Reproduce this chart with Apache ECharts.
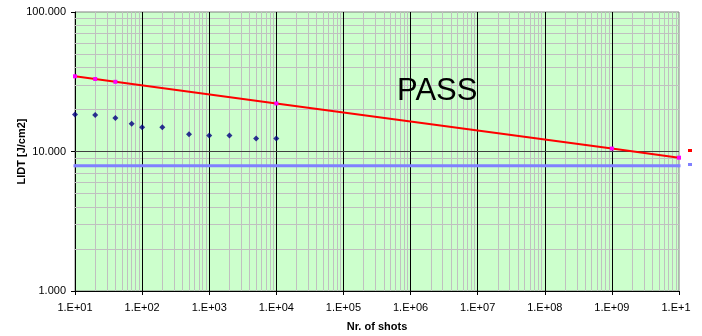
<!DOCTYPE html>
<html><head><meta charset="utf-8">
<script src="https://cdn.jsdelivr.net/npm/echarts@6/dist/echarts.min.js"></script>
<style>html,body{margin:0;padding:0;background:#fff}#c{width:702px;height:336px}</style>
</head><body><div id="c"></div>
<script>
// data
const shotsMeasured = [10, 20, 40, 70, 100, 200, 500, 1000, 2000, 5000, 10000];
const lidtMeasured  = [18.4, 18.3, 17.4, 15.8, 14.9, 14.9, 13.3, 13.0, 13.0, 12.4, 12.4];
const shotsRequired = [10, 20, 40, 1e4, 1e9, 1e10];
const lidtRequired  = [34.6, 33.1, 31.6, 22.1, 10.5, 9.03];
const shotsLimit = [10, 1e10];
const lidtLimit  = [7.9, 7.9];
const xTickValues = [1e1,1e2,1e3,1e4,1e5,1e6,1e7,1e8,1e9,1e10];
const yTickValues = [1, 10, 100];

const FONT = 'Liberation Sans, Arial, sans-serif';
const zip = (a, b) => a.map((v, i) => [v, b[i]]);

// grid lines (minor 2..9 per decade) positioned through the axes
const gridLines = [];
for (let e = 1; e < 10; e++) {
  for (let m = 2; m <= 9; m++) gridLines.push({xAxis: m * Math.pow(10, e), lineStyle: {color: '#c0c0c0', width: 1, type: 'solid'}});
}
for (let e = 0; e < 2; e++) {
  for (let m = 2; m <= 9; m++) gridLines.push({yAxis: m * Math.pow(10, e), lineStyle: {color: '#c0c0c0', width: 1, type: 'solid'}});
}
for (let e = 2; e < 10; e++) gridLines.push({xAxis: Math.pow(10, e), lineStyle: {color: '#000000', width: 1, type: 'solid'}});
gridLines.push({yAxis: 10, lineStyle: {color: '#404040', width: 1, type: 'solid'}});

const chart = echarts.init(document.getElementById('c'), null, {renderer: 'canvas'});
chart.setOption({
  animation: false,
  backgroundColor: '#ffffff',
  textStyle: {fontFamily: FONT},
  grid: {left: 75, right: 23, top: 12, bottom: 45, show: true, backgroundColor: '#ccffcc', borderColor: '#808080', borderWidth: 1, outerBoundsMode: 'none', containLabel: false},
  legend: {
    orient: 'vertical', left: 688, top: 149, padding: 0, itemWidth: 4, itemHeight: 3, itemGap: 11,
    formatter: () => '', textStyle: {fontSize: 1},
    data: [
      {name: 'Required', icon: 'rect', itemStyle: {color: '#ff0000'}},
      {name: 'Limit', icon: 'rect', itemStyle: {color: '#8080ff'}}
    ]
  },
  xAxis: {
    type: 'log', logBase: 10, min: 10, max: 1e10,
    name: 'Nr. of shots', nameLocation: 'middle', nameGap: 30, nameMoveOverlap: false,
    nameTextStyle: {fontFamily: FONT, fontSize: 11, fontWeight: 'bold', color: '#000'},
    axisLine: {show: true, lineStyle: {color: '#000', width: 1}},
    axisTick: {show: true, length: 4, inside: false, lineStyle: {color: '#000'}},
    splitLine: {show: false}, minorSplitLine: {show: false},
    axisLabel: {
      fontFamily: FONT, fontSize: 11, color: '#000', margin: 11,
      formatter: v => {
        const e = Math.round(Math.log10(v));
        if (e >= 10) return '{c|1.E+1}';
        return '1.E+' + (e < 10 ? '0' + e : e);
      },
      rich: {c: {fontFamily: FONT, fontSize: 11, color: '#000', padding: [0, 6, 0, 0]}}
    }
  },
  yAxis: {
    type: 'log', logBase: 10, min: 1, max: 100,
    name: 'LIDT [J/cm2]', nameLocation: 'middle', nameGap: 48, nameMoveOverlap: false,
    nameTextStyle: {fontFamily: FONT, fontSize: 11, fontWeight: 'bold', color: '#000'},
    axisLine: {show: true, lineStyle: {color: '#000', width: 1}},
    axisTick: {show: true, length: 4, lineStyle: {color: '#000'}},
    splitLine: {show: false}, minorSplitLine: {show: false},
    axisLabel: {fontFamily: FONT, fontSize: 11, color: '#000', margin: 9, formatter: v => v.toFixed(3)}
  },
  graphic: [{
    type: 'text', left: 397, top: 76, z: 100,
    style: {text: 'PASS', fontFamily: FONT, fontSize: 31, fill: '#000'}
  }],
  series: [
    {
      name: 'grid', type: 'line', data: [], z: 1, silent: true,
      markLine: {silent: true, z: 1, symbol: ['none', 'none'], label: {show: false}, animation: false, data: gridLines}
    },
    {
      name: 'Limit', type: 'line', data: zip(shotsLimit, lidtLimit), z: 3,
      symbol: 'rect', symbolSize: 3, showSymbol: true,
      lineStyle: {color: '#8080ff', width: 3}, itemStyle: {color: '#8080ff'}
    },
    {
      name: 'Required', type: 'line', data: zip(shotsRequired, lidtRequired), z: 4,
      symbol: 'rect', symbolSize: 4, showSymbol: true,
      lineStyle: {color: '#ff0000', width: 2}, itemStyle: {color: '#ff00ff'}
    },
    {
      name: 'Measured', type: 'scatter', data: zip(shotsMeasured, lidtMeasured), z: 5,
      symbol: 'diamond', symbolSize: 6, itemStyle: {color: '#000080'}
    }
  ]
});
</script></body></html>
